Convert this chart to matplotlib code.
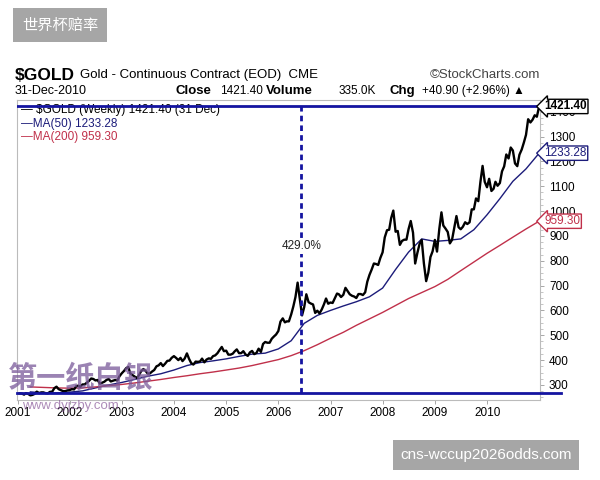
import matplotlib
matplotlib.use("Agg")
import matplotlib.pyplot as plt
import pandas as pd

plt.rcParams['font.family'] = ['Liberation Sans', 'Noto Sans CJK SC', 'DejaVu Sans']

# weekly gold, read as mid-month / month-end values 2001-2010
gold_2001 = [266, 265, 261, 267, 264, 258, 260, 264, 273, 267, 270, 270, 267, 266, 272, 273, 287, 293, 283, 279, 275, 275, 278, 279]
gold_2002 = [283, 282, 295, 297, 293, 302, 302, 309, 316, 326, 324, 318, 320, 305, 309, 313, 320, 324, 314, 317, 320, 318, 335, 347]
gold_2003 = [356, 368, 372, 347, 340, 334, 328, 339, 355, 364, 357, 346, 346, 354, 360, 375, 379, 388, 376, 386, 397, 398, 409, 416]
gold_2004 = [409, 400, 409, 396, 406, 427, 405, 388, 382, 394, 393, 394, 406, 391, 402, 407, 405, 416, 419, 428, 441, 453, 436, 438]
gold_2005 = [422, 422, 426, 435, 443, 428, 428, 436, 423, 417, 431, 437, 424, 429, 446, 433, 465, 473, 470, 470, 486, 495, 503, 517]
gold_2006 = [555, 568, 552, 556, 556, 584, 616, 654, 712, 643, 580, 613, 665, 633, 628, 624, 590, 599, 588, 604, 624, 648, 627, 632]
gold_2007 = [630, 650, 668, 665, 654, 663, 691, 678, 665, 659, 656, 650, 666, 666, 662, 673, 716, 743, 764, 789, 787, 783, 811, 834]
gold_2008 = [894, 923, 925, 972, 1002, 917, 920, 864, 880, 885, 885, 928, 960, 913, 789, 833, 868, 884, 790, 718, 752, 815, 838, 884]
gold_2009 = [837, 928, 995, 942, 930, 916, 870, 884, 930, 980, 935, 927, 937, 955, 948, 955, 1007, 1007, 1051, 1040, 1118, 1182, 1118, 1096]
gold_2010 = [1130, 1081, 1090, 1118, 1102, 1113, 1160, 1180, 1228, 1212, 1256, 1244, 1192, 1181, 1227, 1248, 1276, 1307, 1370, 1357, 1368, 1386, 1380, 1421.40]
gold = gold_2001 + gold_2002 + gold_2003 + gold_2004 + gold_2005 + gold_2006 + gold_2007 + gold_2008 + gold_2009 + gold_2010
gold_dates = pd.date_range('2001-01-01', '2010-12-31', freq='SME')

# moving averages at quarter ends
ma50 = [272, 268, 268, 271, 276, 288, 300, 310, 322, 335, 345, 360, 378, 390, 397, 405,
        415, 424, 428, 445, 478, 548, 580, 600, 618, 635, 655, 690, 765, 835, 888, 878,
        882, 888, 925, 985, 1050, 1120, 1170, 1233.28]
ma200 = [292, 290, 288, 287, 288, 292, 297, 302, 308, 315, 322, 330, 337, 345, 352, 360,
         368, 378, 390, 402, 418, 438, 462, 488, 512, 540, 566, 592, 620, 648, 672, 696,
         725, 760, 795, 830, 862, 895, 928, 959.30]
ma_dates = pd.date_range('2001-03-31', periods=40, freq='QE')

low_level = 268.7
last = 1421.40
mark_date = pd.Timestamp('2006-06-09')
years = [str(y) for y in range(2001, 2011)]

fig = plt.figure(figsize=(6, 4.8), dpi=100)
ax = fig.add_axes([0.028, 0.167, 0.872, 0.625])

ax.plot(gold_dates, gold, color='black', lw=1.7, zorder=4)
ax.plot(ma_dates, ma50, color='#1c1c7a', lw=1.0, zorder=3)
ax.plot(ma_dates, ma200, color='#c0304a', lw=1.0, zorder=3)

ax.axhline(last, color='#1414a0', lw=2, zorder=5)
ax.axhline(low_level, xmax=1.04, color='#1414a0', lw=2, zorder=5, clip_on=False)
ax.plot([mark_date, mark_date], [low_level, last], color='#1414a0', lw=2, ls=(0, (2, 1.5)), zorder=5)
ax.text(mark_date, 858, '429.0%', ha='center', va='center', fontsize=8.5, color='#222222',
        bbox=dict(facecolor='white', edgecolor='none', pad=1), zorder=6)

ax.set_xlim(pd.Timestamp('2000-12-26'), pd.Timestamp('2011-01-06'))
ax.set_ylim(240, 1448)
ax.yaxis.tick_right()
ax.set_yticks(range(300, 1401, 100))
ax.set_yticks(range(250, 1448, 25), minor=True)
ax.set_xticks([pd.Timestamp(y + '-01-01') for y in years])
ax.set_xticklabels(years)
ax.tick_params(axis='both', labelsize=8.5, colors='#999999', labelcolor='black', length=3, width=0.6)
ax.tick_params(axis='y', which='minor', length=2, colors='#bbbbbb')
ax.tick_params(axis='x', pad=2)
for s in ax.spines.values():
    s.set_color('#bbbbbb')
    s.set_linewidth(0.8)

# price tags on the right
tags = [(last, '1421.40', 'black'), (1233.28, '1233.28', '#1c1c7a'), (959.30, '959.30', '#c0304a')]
for val, txt, col in tags:
    ax.text(1.008, val, txt, transform=ax.get_yaxis_transform(), ha='left', va='center',
            fontsize=8.5, color=col, fontweight='bold' if col == 'black' else 'normal',
            bbox=dict(boxstyle='larrow,pad=0.1', facecolor='white', edgecolor=col, lw=1), zorder=7, clip_on=False)

# legend text
leg = [('— $GOLD (Weekly) 1421.40 (31 Dec)', 'black'), ('—MA(50) 1233.28', '#1c1c7a'), ('—MA(200) 959.30', '#c0304a')]
for i, (txt, col) in enumerate(leg):
    ax.text(0.008, 0.985 - i * 0.045, txt, transform=ax.transAxes, fontsize=8.5, color=col, va='top', zorder=4)

# header
fig.text(15 / 600, 1 - 75 / 480, '$GOLD', fontsize=12.5, fontweight='bold', va='center')
fig.text(80 / 600, 1 - 75 / 480, 'Gold - Continuous Contract (EOD)  CME', fontsize=9.5, va='center')
fig.text(540 / 600, 1 - 75 / 480, '©StockCharts.com', fontsize=9.5, color='#444444', ha='right', va='center')
fig.text(15 / 600, 1 - 91 / 480, '31-Dec-2010', fontsize=9, va='center')
hdr = [(175, 'Close', True), (220, '1421.40', False), (266, 'Volume', True), (339, '335.0K', False),
       (390, 'Chg', True), (422, '+40.90 (+2.96%) ▲', False)]
for x, txt, b in hdr:
    fig.text(x / 600, 1 - 91 / 480, txt, fontsize=9.5 if b else 8.5, fontweight='bold' if b else 'normal',
             va='center', family=['Liberation Sans', 'DejaVu Sans'])

# watermarks
fig.text(8 / 600, 1 - 378 / 480, '第一纸白银', fontsize=21, fontweight='bold', color='#7a5a9a', alpha=0.75,
         va='center', family=['Noto Sans CJK SC', 'DejaVu Sans'], zorder=10)
fig.text(22 / 600, 1 - 406 / 480, 'www.dyjzby.com', fontsize=9.5, color='#8a5a9a', alpha=0.7, va='center', zorder=10)
fig.text(60 / 600, 1 - 25 / 480, '世界杯赔率', fontsize=11, color='white', ha='center', va='center',
         family=['Noto Sans CJK SC', 'DejaVu Sans'],
         bbox=dict(boxstyle='square,pad=0.55', facecolor='#a6a6a6', edgecolor='none'))
fig.text(486 / 600, 1 - 455 / 480, 'cns-wccup2026odds.com', fontsize=11, color='white', ha='center', va='center',
         bbox=dict(boxstyle='square,pad=0.5', facecolor='#a6a6a6', edgecolor='none'))

fig.savefig('out.png', dpi=100)
